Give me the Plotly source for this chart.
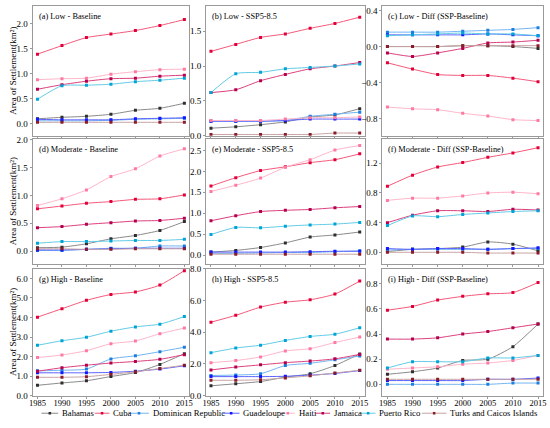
import plotly.graph_objects as go

years = [1985, 1990, 1995, 2000, 2005, 2010, 2015]
countries = ["Bahamas", "Cuba", "Dominican Republic", "Guadeloupe", "Haiti",
             "Jamaica", "Puerto Rico", "Turks and Caicos Islands"]

low_baseline = {
    "Bahamas": [0.10, 0.13, 0.15, 0.19, 0.27, 0.31, 0.41],
    "Cuba": [1.39, 1.56, 1.72, 1.79, 1.86, 1.96, 2.08],
    "Dominican Republic": [0.06, 0.06, 0.06, 0.07, 0.09, 0.10, 0.11],
    "Guadeloupe": [0.09, 0.08, 0.08, 0.08, 0.10, 0.11, 0.12],
    "Haiti": [0.88, 0.90, 0.91, 0.99, 1.04, 1.08, 1.09],
    "Jamaica": [0.69, 0.78, 0.85, 0.90, 0.91, 0.95, 0.97],
    "Puerto Rico": [0.49, 0.76, 0.77, 0.79, 0.84, 0.87, 0.91],
    "Turks and Caicos Islands": [0.03, 0.03, 0.03, 0.03, 0.03, 0.03, 0.03],
}
low_ssp = {
    "Bahamas": [0.11, 0.13, 0.16, 0.20, 0.27, 0.30, 0.39],
    "Cuba": [1.21, 1.31, 1.41, 1.46, 1.54, 1.61, 1.70],
    "Dominican Republic": [0.21, 0.21, 0.21, 0.22, 0.28, 0.31, 0.34],
    "Guadeloupe": [0.21, 0.21, 0.21, 0.22, 0.24, 0.24, 0.24],
    "Haiti": [0.22, 0.22, 0.22, 0.24, 0.26, 0.26, 0.27],
    "Jamaica": [0.62, 0.66, 0.79, 0.88, 0.96, 1.00, 1.05],
    "Puerto Rico": [0.62, 0.89, 0.91, 0.96, 0.98, 1.00, 1.03],
    "Turks and Caicos Islands": [0.02, 0.02, 0.02, 0.02, 0.02, 0.04, 0.04],
}
low_diff = {
    "Bahamas": [0.00, 0.00, 0.00, 0.01, 0.01, 0.00, -0.02],
    "Cuba": [-0.18, -0.25, -0.31, -0.32, -0.32, -0.35, -0.39],
    "Dominican Republic": [0.16, 0.16, 0.16, 0.17, 0.18, 0.19, 0.21],
    "Guadeloupe": [0.13, 0.13, 0.13, 0.13, 0.14, 0.13, 0.12],
    "Haiti": [-0.67, -0.69, -0.70, -0.74, -0.77, -0.81, -0.82],
    "Jamaica": [-0.07, -0.11, -0.07, -0.02, 0.04, 0.05, 0.07],
    "Puerto Rico": [0.12, 0.13, 0.14, 0.15, 0.14, 0.14, 0.12],
    "Turks and Caicos Islands": [0.00, 0.00, 0.00, 0.01, 0.01, 0.01, 0.01],
}
mod_baseline = {
    "Bahamas": [0.06, 0.07, 0.13, 0.22, 0.28, 0.37, 0.53],
    "Cuba": [0.76, 0.81, 0.86, 0.89, 0.93, 0.94, 1.01],
    "Dominican Republic": [0.01, 0.01, 0.03, 0.05, 0.05, 0.09, 0.09],
    "Guadeloupe": [0.02, 0.02, 0.03, 0.04, 0.05, 0.05, 0.05],
    "Haiti": [0.82, 0.94, 1.10, 1.34, 1.48, 1.71, 1.84],
    "Jamaica": [0.42, 0.44, 0.48, 0.51, 0.54, 0.55, 0.59],
    "Puerto Rico": [0.14, 0.17, 0.17, 0.18, 0.19, 0.19, 0.21],
    "Turks and Caicos Islands": [0.04, 0.04, 0.03, 0.03, 0.04, 0.04, 0.04],
}
mod_ssp = {
    "Bahamas": [0.07, 0.11, 0.18, 0.29, 0.43, 0.48, 0.55],
    "Cuba": [1.65, 1.85, 2.02, 2.11, 2.21, 2.28, 2.42],
    "Dominican Republic": [0.04, 0.04, 0.05, 0.06, 0.06, 0.08, 0.10],
    "Guadeloupe": [0.07, 0.07, 0.07, 0.07, 0.08, 0.09, 0.09],
    "Haiti": [1.52, 1.67, 1.84, 2.10, 2.28, 2.51, 2.62],
    "Jamaica": [0.82, 0.94, 1.04, 1.07, 1.09, 1.13, 1.16],
    "Puerto Rico": [0.49, 0.66, 0.65, 0.69, 0.72, 0.74, 0.78],
    "Turks and Caicos Islands": [0.02, 0.02, 0.02, 0.02, 0.02, 0.02, 0.02],
}
mod_diff = {
    "Bahamas": [0.01, 0.04, 0.05, 0.07, 0.14, 0.11, 0.02],
    "Cuba": [0.89, 1.04, 1.15, 1.21, 1.28, 1.34, 1.41],
    "Dominican Republic": [0.03, 0.04, 0.04, 0.04, 0.04, 0.05, 0.05],
    "Guadeloupe": [0.05, 0.04, 0.05, 0.05, 0.04, 0.05, 0.06],
    "Haiti": [0.70, 0.73, 0.73, 0.76, 0.80, 0.81, 0.79],
    "Jamaica": [0.40, 0.50, 0.56, 0.56, 0.55, 0.58, 0.57],
    "Puerto Rico": [0.36, 0.49, 0.48, 0.51, 0.53, 0.55, 0.56],
    "Turks and Caicos Islands": [0.00, 0.00, 0.00, 0.00, -0.01, -0.01, -0.01],
}
high_baseline = {
    "Bahamas": [0.53, 0.65, 0.76, 0.98, 1.18, 1.60, 2.15],
    "Cuba": [4.02, 4.45, 4.88, 5.18, 5.31, 5.66, 6.40],
    "Dominican Republic": [1.27, 1.30, 1.36, 1.88, 2.04, 2.25, 2.48],
    "Guadeloupe": [1.17, 1.17, 1.17, 1.19, 1.25, 1.36, 1.53],
    "Haiti": [1.95, 2.08, 2.30, 2.66, 2.80, 3.17, 3.46],
    "Jamaica": [1.25, 1.43, 1.56, 1.67, 1.75, 1.86, 2.10],
    "Puerto Rico": [2.58, 2.81, 2.99, 3.30, 3.52, 3.66, 4.05],
    "Turks and Caicos Islands": [0.94, 0.94, 0.97, 1.09, 1.22, 1.39, 1.56],
}
high_ssp = {
    "Bahamas": [0.62, 0.75, 0.89, 1.17, 1.38, 1.90, 2.63],
    "Cuba": [4.63, 5.06, 5.58, 5.89, 6.04, 6.40, 7.22],
    "Dominican Republic": [1.27, 1.30, 1.38, 1.90, 2.04, 2.26, 2.50],
    "Guadeloupe": [1.20, 1.20, 1.20, 1.22, 1.29, 1.40, 1.58],
    "Haiti": [2.08, 2.21, 2.44, 2.82, 2.96, 3.35, 3.69],
    "Jamaica": [1.62, 1.80, 1.94, 2.08, 2.18, 2.32, 2.60],
    "Puerto Rico": [2.71, 3.00, 3.18, 3.48, 3.73, 3.87, 4.28],
    "Turks and Caicos Islands": [0.97, 0.97, 1.00, 1.12, 1.25, 1.43, 1.60],
}
high_diff = {
    "Bahamas": [0.08, 0.10, 0.13, 0.19, 0.20, 0.30, 0.48],
    "Cuba": [0.59, 0.62, 0.67, 0.70, 0.72, 0.73, 0.81],
    "Dominican Republic": [0.00, 0.00, 0.00, 0.00, 0.00, 0.01, 0.01],
    "Guadeloupe": [0.03, 0.03, 0.03, 0.03, 0.04, 0.04, 0.05],
    "Haiti": [0.12, 0.13, 0.14, 0.16, 0.17, 0.19, 0.23],
    "Jamaica": [0.36, 0.36, 0.37, 0.40, 0.42, 0.45, 0.48],
    "Puerto Rico": [0.13, 0.18, 0.18, 0.18, 0.21, 0.21, 0.23],
    "Turks and Caicos Islands": [0.04, 0.04, 0.04, 0.04, 0.04, 0.04, 0.04],
}

panel_titles = ["(a) Low - Baseline", "(b) Low - SSP5-8.5", "(c) Low - Diff (SSP-Baseline)",
                "(d) Moderate - Baseline", "(e) Moderate - SSP5-8.5", "(f) Moderate - Diff (SSP-Baseline)",
                "(g) High - Baseline", "(h) High - SSP5-8.5", "(i) High - Diff (SSP-Baseline)"]
y_title = "Area of Settlement(km²)"

panels = [low_baseline, low_ssp, low_diff, mod_baseline, mod_ssp, mod_diff,
          high_baseline, high_ssp, high_diff]

# styling
line_colors = {"Bahamas": "#8a8a8a", "Cuba": "#f4587a", "Dominican Republic": "#72b4f2",
               "Guadeloupe": "#5a62ff", "Haiti": "#ffb6ca", "Jamaica": "#dc3f7c",
               "Puerto Rico": "#62cbe6", "Turks and Caicos Islands": "#c9a3a3"}
marker_colors = {"Bahamas": "#2e2e2e", "Cuba": "#e3003a", "Dominican Republic": "#1c7fe0",
                 "Guadeloupe": "#1018ff", "Haiti": "#ff7aa2", "Jamaica": "#b3004f",
                 "Puerto Rico": "#00a3d6", "Turks and Caicos Islands": "#8a1c2a"}
y_ranges = [[-0.24, 2.35], [0, 1.86], [-0.99, 0.45],
            [-0.23, 2.02], [-0.21, 2.78], [-0.155, 1.53],
            [0, 6.5], [0, 8], [-0.09, 0.92]]
y_dticks = [0.5, 0.5, 0.4, 0.5, 0.5, 0.4, 1.0, 2.0, 0.2]

W, H = 550, 428
col_px = [(29, 188), (205, 366), (384, 547)]
row_px = [(1, 134), (137, 265), (270, 400)]
legend_line_px = [(38, 55), (92, 107), (127, 147), (222, 239), (281, 295), (316, 331), (362, 377), (424, 449)]
legend_y_px = 418
FONT = "Liberation Serif"
FRAME = "#9a9a9a"

fig = go.Figure()
layout = dict(width=W, height=H, margin=dict(l=0, r=0, t=0, b=0),
              paper_bgcolor="white", plot_bgcolor="white", showlegend=False,
              font=dict(family=FONT, size=9, color="black"))
annotations = []
shapes = []

for i, data in enumerate(panels):
    r, c = divmod(i, 3)
    n = "" if i == 0 else str(i + 1)
    xa, ya = "x" + n, "y" + n
    for name in countries:
        fig.add_trace(go.Scatter(
            x=years, y=data[name], name=name, mode="lines+markers",
            xaxis=xa, yaxis=ya,
            line=dict(color=line_colors[name], width=1, shape="spline", smoothing=0.6),
            marker=dict(color=marker_colors[name], size=3, symbol="square")))
    x0, x1 = col_px[c]
    y0, y1 = row_px[r]
    layout["xaxis" + n] = dict(
        domain=[x0 / W, x1 / W], anchor=ya, range=[1984, 2016],
        tickvals=years, showticklabels=(r == 2), ticks="outside", ticklen=2,
        ticklabelstandoff=-3,
        tickcolor=FRAME, showline=True, linecolor=FRAME, linewidth=1, mirror=True,
        showgrid=False, zeroline=False, tickfont=dict(family=FONT, size=8.5))
    layout["yaxis" + n] = dict(
        domain=[1 - y1 / H, 1 - y0 / H], anchor=xa, range=y_ranges[i],
        tick0=0, dtick=y_dticks[i], tickformat=".1f", ticks="outside", ticklen=2,
        tickcolor=FRAME, showline=True, linecolor=FRAME, linewidth=1, mirror=True,
        showgrid=False, zeroline=False, tickfont=dict(family=FONT, size=9))
    annotations.append(dict(
        text=panel_titles[i], xref=xa + " domain", yref=ya + " domain",
        x=0, y=1, xanchor="left", yanchor="top", xshift=4, yshift=-4,
        showarrow=False, font=dict(family=FONT, size=8.3, color="black")))

for r in range(3):
    y0, y1 = row_px[r]
    annotations.append(dict(
        text=y_title, xref="paper", yref="paper", x=9 / W, y=1 - (y0 + y1) / 2 / H,
        xanchor="center", yanchor="middle", textangle=-90, showarrow=False,
        font=dict(family=FONT, size=9, color="black")))

# legend row: sample line + marker (shapes) and the country name (text)
ly = 1 - legend_y_px / H
for name, (lx0, lx1) in zip(countries, legend_line_px):
    shapes.append(dict(type="line", xref="paper", yref="paper",
                       x0=lx0 / W, x1=lx1 / W, y0=ly, y1=ly,
                       line=dict(color=line_colors[name], width=1)))
    mx = (lx0 + lx1) / 2
    shapes.append(dict(type="rect", xref="paper", yref="paper",
                       x0=(mx - 1.3) / W, x1=(mx + 1.3) / W,
                       y0=ly - 1.3 / H, y1=ly + 1.3 / H,
                       line=dict(width=0), fillcolor=marker_colors[name]))
    annotations.append(dict(
        text=name, xref="paper", yref="paper", x=(lx1 + 2) / W, y=ly,
        xanchor="left", yanchor="middle", showarrow=False,
        font=dict(family=FONT, size=8.7, color="black")))

layout["annotations"] = annotations
layout["shapes"] = shapes
fig.update_layout(**layout)
fig.write_html("out.html", config={"displayModeBar": False},
               post_script="document.body.style.margin='0';")
